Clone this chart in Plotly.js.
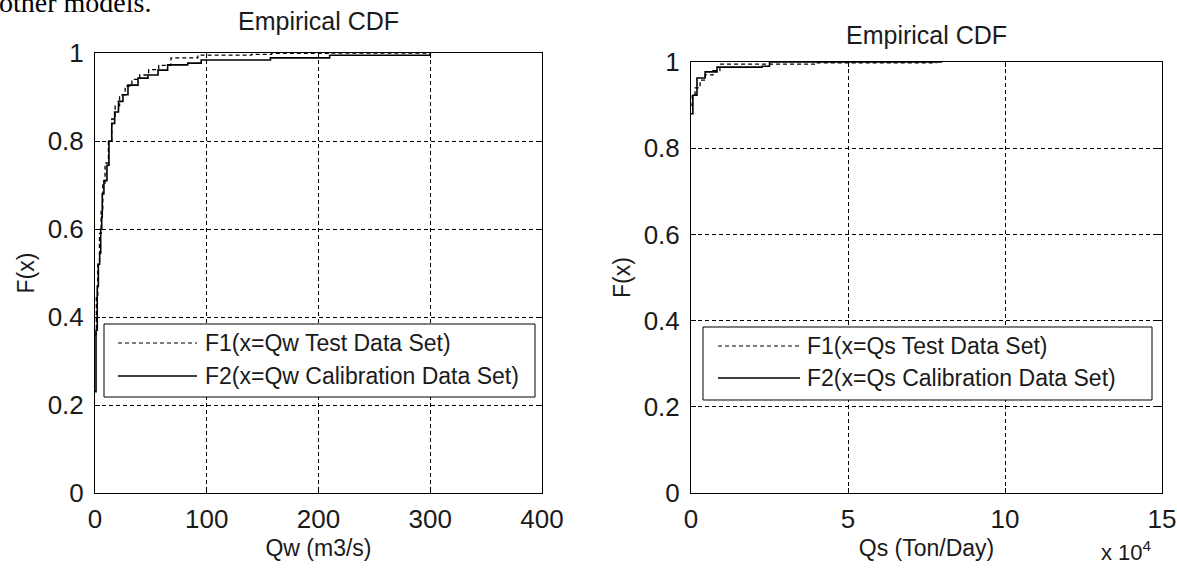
<!DOCTYPE html>
<html>
<head>
<meta charset="utf-8">
<script src="https://cdn.plot.ly/plotly-3.0.1.min.js"></script>
<style>html,body{margin:0;padding:0;background:#fff;}#chart{width:1177px;height:572px;}</style>
</head>
<body>
<div id="chart"></div>
<script>
// Left panel: Qw (m3/s)
const qwTestX = [0, 1.2, 2.5, 4, 5.5, 7, 9, 12, 15, 18, 22, 27, 33, 40, 48, 57, 68, 92, 140, 158, 210, 300];
const qwTestF = [0.36, 0.45, 0.52, 0.59, 0.64, 0.70, 0.75, 0.80, 0.85, 0.88, 0.905, 0.925, 0.94, 0.95, 0.962, 0.972, 0.989, 0.995, 0.997, 0.999, 1.0, 1.0];
const qwCalX = [0, 0.9, 2, 3, 4.2, 5.1, 6, 6.5, 8, 10.7, 12.5, 15, 17.6, 21, 25, 29.5, 38.5, 47.4, 56.4, 65, 83, 95, 139, 157, 210, 300];
const qwCalF = [0.23, 0.37, 0.47, 0.52, 0.545, 0.60, 0.627, 0.68, 0.71, 0.745, 0.80, 0.84, 0.866, 0.89, 0.905, 0.927, 0.943, 0.95, 0.961, 0.973, 0.977, 0.984, 0.984, 0.989, 0.995, 1.0];

// Right panel: Qs (Ton/Day)
const qsTestX = [0, 400, 1300, 2900, 4500, 7000, 9200, 40000, 78000];
const qsTestF = [0.90, 0.925, 0.94, 0.958, 0.97, 0.98, 0.995, 0.998, 1.0];
const qsCalX = [0, 600, 1900, 4500, 8300, 22600, 25000, 80000];
const qsCalF = [0.88, 0.923, 0.963, 0.977, 0.988, 0.99, 1.0, 1.0];

const yTicks = [0, 0.2, 0.4, 0.6, 0.8, 1];
const qwTicks = [0, 100, 200, 300, 400];
const qsTickVals = [0, 50000, 100000, 150000];
const qsTickText = ['0', '5', '10', '15'];

const legendNamesLeft = ['F1(x=Qw Test Data Set)', 'F2(x=Qw Calibration Data Set)'];
const legendNamesRight = ['F1(x=Qs Test Data Set)', 'F2(x=Qs Calibration Data Set)'];

const FONT = 'Liberation Sans, Arial, sans-serif';
const TXT = '#1a1a1a';
const DASH = '4px,3px';

const traces = [
  {x: qwTestX, y: qwTestF, type: 'scatter', mode: 'lines', line: {shape: 'hv', color: '#000', width: 1.3, dash: DASH},
   name: legendNamesLeft[0], xaxis: 'x', yaxis: 'y', showlegend: false},
  {x: qwCalX, y: qwCalF, type: 'scatter', mode: 'lines', line: {shape: 'hv', color: '#000', width: 1.6},
   name: legendNamesLeft[1], xaxis: 'x', yaxis: 'y', showlegend: false},
  {x: qsTestX, y: qsTestF, type: 'scatter', mode: 'lines', line: {shape: 'hv', color: '#000', width: 1.3, dash: DASH},
   name: legendNamesRight[0], xaxis: 'x2', yaxis: 'y2', showlegend: false},
  {x: qsCalX, y: qsCalF, type: 'scatter', mode: 'lines', line: {shape: 'hv', color: '#000', width: 1.6},
   name: legendNamesRight[1], xaxis: 'x2', yaxis: 'y2', showlegend: false}
];

function axisBase() {
  return {
    showline: true, mirror: 'ticks', linecolor: '#000', linewidth: 1,
    ticks: 'inside', ticklen: 5, tickcolor: '#000',
    showgrid: true, gridcolor: '#000', gridwidth: 1, griddash: DASH,
    zeroline: false, automargin: false, fixedrange: true,
    tickfont: {family: FONT, size: 26, color: TXT}
  };
}

const W = 1177, H = 572;
const px = v => v / W;
const py = v => 1 - v / H;

// Legend boxes (MATLAB-style), drawn in page pixels converted to paper coords
function legendBox(x0, y0, x1, y1, lineX0, lineX1, textX, rowsY, names) {
  const shapes = [
    {type: 'rect', xref: 'paper', yref: 'paper', x0: px(x0), x1: px(x1), y0: py(y1), y1: py(y0),
     fillcolor: '#fff', line: {color: '#000', width: 1}, layer: 'above'}
  ];
  const anns = [];
  rowsY.forEach((ry, i) => {
    shapes.push({type: 'line', xref: 'paper', yref: 'paper', x0: px(lineX0), x1: px(lineX1), y0: py(ry), y1: py(ry),
      line: {color: '#000', width: i === 0 ? 1.2 : 1.4, dash: i === 0 ? DASH : 'solid'}, layer: 'above'});
    anns.push({text: names[i], xref: 'paper', yref: 'paper', x: px(textX), y: py(ry), xanchor: 'left', yanchor: 'middle',
      showarrow: false, font: {family: FONT, size: 23, color: TXT}});
  });
  return {shapes, anns};
}

const lgL = legendBox(104, 324, 535, 397, 118, 197, 203, [343, 376], legendNamesLeft);
const lgR = legendBox(703, 327, 1152, 400, 718, 800, 805, [346, 378], legendNamesRight);

const layout = {
  width: W, height: H,
  margin: {l: 0, r: 0, t: 0, b: 0},
  paper_bgcolor: '#fff', plot_bgcolor: '#fff',
  font: {family: FONT, color: TXT},
  showlegend: false,
  xaxis: Object.assign(axisBase(), {
    domain: [px(95), px(542)], range: [0, 400], tickvals: qwTicks, anchor: 'y',
    ticklabelstandoff: 3,
    title: {text: 'Qw (m3/s)', font: {family: FONT, size: 23, color: TXT}, standoff: 6}
  }),
  yaxis: Object.assign(axisBase(), {
    domain: [py(493), py(53)], range: [0, 1], tickvals: yTicks, anchor: 'x',
    ticklabelstandoff: 5,
    title: {text: 'F(x)', font: {family: FONT, size: 23, color: TXT}, standoff: 6}
  }),
  xaxis2: Object.assign(axisBase(), {
    domain: [px(691), px(1162)], range: [0, 150000], tickvals: qsTickVals, ticktext: qsTickText, anchor: 'y2',
    ticklabelstandoff: 3,
    title: {text: 'Qs (Ton/Day)', font: {family: FONT, size: 23, color: TXT}, standoff: 6}
  }),
  yaxis2: Object.assign(axisBase(), {
    domain: [py(493), py(62)], range: [0, 1], tickvals: yTicks, anchor: 'x2',
    ticklabelstandoff: 5,
    title: {text: 'F(x)', font: {family: FONT, size: 23, color: TXT}, standoff: 6}
  }),
  shapes: lgL.shapes.concat(lgR.shapes),
  annotations: [
    {text: 'Empirical CDF', xref: 'paper', yref: 'paper', x: px(318), y: py(21), xanchor: 'center', yanchor: 'middle',
     showarrow: false, font: {family: FONT, size: 25, color: TXT}},
    {text: 'Empirical CDF', xref: 'paper', yref: 'paper', x: px(926), y: py(35), xanchor: 'center', yanchor: 'middle',
     showarrow: false, font: {family: FONT, size: 25, color: TXT}},
    {text: 'x 10<sup>4</sup>', xref: 'paper', yref: 'paper', x: px(1099), y: py(551), xanchor: 'left', yanchor: 'middle',
     showarrow: false, font: {family: FONT, size: 22, color: TXT}},
    {text: 'other models.', xref: 'paper', yref: 'paper', x: px(-3), y: py(2), xanchor: 'left', yanchor: 'middle',
     showarrow: false, font: {family: 'Liberation Serif, Times New Roman, serif', size: 28, color: '#000'}}
  ].concat(lgL.anns, lgR.anns)
};

Plotly.newPlot('chart', traces, layout, {staticPlot: true, displayModeBar: false});
</script>
</body>
</html>
